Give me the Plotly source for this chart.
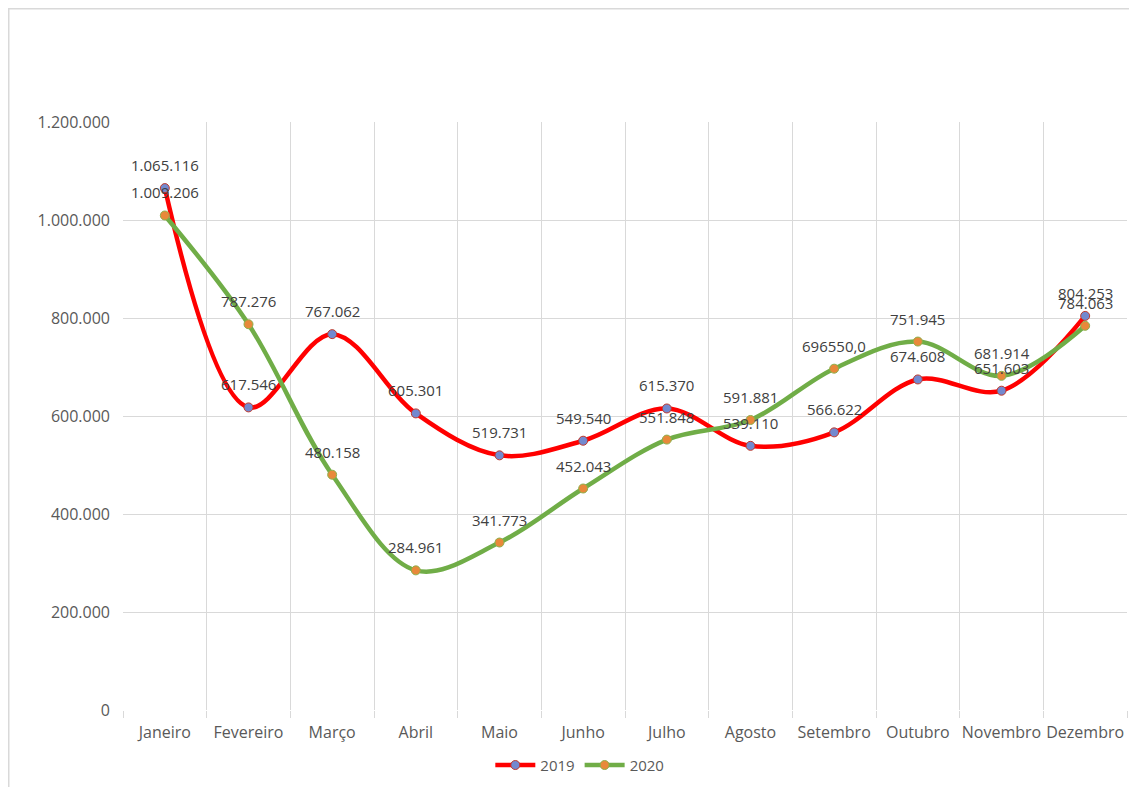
import plotly.graph_objects as go

months = ["Janeiro", "Fevereiro", "Março", "Abril", "Maio", "Junho",
          "Julho", "Agosto", "Setembro", "Outubro", "Novembro", "Dezembro"]
v2019 = [1065116, 617546, 767062, 605301, 519731, 549540,
         615370, 539110, 566622, 674608, 651603, 804253]
v2020 = [1009206, 787276, 480158, 284961, 341773, 452043,
         551848, 591881, 696550, 751945, 681914, 784063]
lbl2019 = ["1.065.116", "617.546", "767.062", "605.301", "519.731", "549.540",
           "615.370", "539.110", "566.622", "674.608", "651.603", "804.253"]
lbl2020 = ["1.009.206", "787.276", "480.158", "284.961", "341.773", "452.043",
           "551.848", "591.881", "696550,0", "751.945", "681.914", "784.063"]
y_ticks = [0, 200000, 400000, 600000, 800000, 1000000, 1200000]

xs = list(range(len(months)))
FONT = "Open Sans"
GRID = "#D9D9D9"

fig = go.Figure()
fig.add_trace(go.Scatter(
    x=xs, y=v2019, name="2019", mode="lines+markers",
    line=dict(color="#FF0000", width=4.5, shape="spline", smoothing=1.0),
    marker=dict(size=9, color="#7389CF", line=dict(color="#C0392B", width=1)),
))
fig.add_trace(go.Scatter(
    x=xs, y=v2020, name="2020", mode="lines+markers",
    line=dict(color="#70AD47", width=4.5, shape="spline", smoothing=1.0),
    marker=dict(size=9, color="#E8893A", line=dict(color="#8DB04A", width=1)),
))

annotations = []
for series, labels in ((v2019, lbl2019), (v2020, lbl2020)):
    for x, y, t in zip(xs, series, labels):
        annotations.append(dict(
            x=x, y=y, text=t, showarrow=False, xref="x", yref="y",
            yshift=23, xanchor="center", yanchor="middle",
            font=dict(family=FONT, size=15, color="#404040"),
        ))

fig.update_layout(
    width=1137, height=787,
    margin=dict(l=115, r=18, t=114, b=85),
    paper_bgcolor="white", plot_bgcolor="white",
    separators=",.",
    font=dict(family=FONT, size=15, color="#595959"),
    showlegend=True,
    legend=dict(orientation="h", x=0.455, xanchor="center", y=-0.094, yanchor="middle",
                font=dict(family=FONT, size=15, color="#595959"), itemwidth=40,
                bgcolor="rgba(0,0,0,0)"),
    annotations=annotations,
    shapes=[dict(type="rect", xref="paper", yref="paper",
                 x0=-0.1138, x1=1.05, y0=-0.2, y1=1.1925,
                 line=dict(color=GRID, width=1.5), layer="below")],
)
fig.update_xaxes(
    range=[-0.5, 11.5], tickmode="array", tickvals=xs, ticktext=months,
    showgrid=False, zeroline=False, showline=False, ticks="",
    ticklabelstandoff=11,
    tickfont=dict(family=FONT, size=16, color="#595959"),
    minor=dict(tick0=-0.5, dtick=1, showgrid=True, gridcolor=GRID, gridwidth=1,
               ticks="outside", ticklen=7, tickcolor=GRID),
    fixedrange=True,
)
fig.update_yaxes(
    range=[0, 1200000], tickmode="array", tickvals=y_ticks, tickformat=",d",
    showgrid=True, gridcolor=GRID, gridwidth=1, zeroline=False, showline=False,
    ticks="", ticklabelstandoff=12,
    tickfont=dict(family=FONT, size=16, color="#595959"),
    fixedrange=True,
)

fig.write_html("out.html")
